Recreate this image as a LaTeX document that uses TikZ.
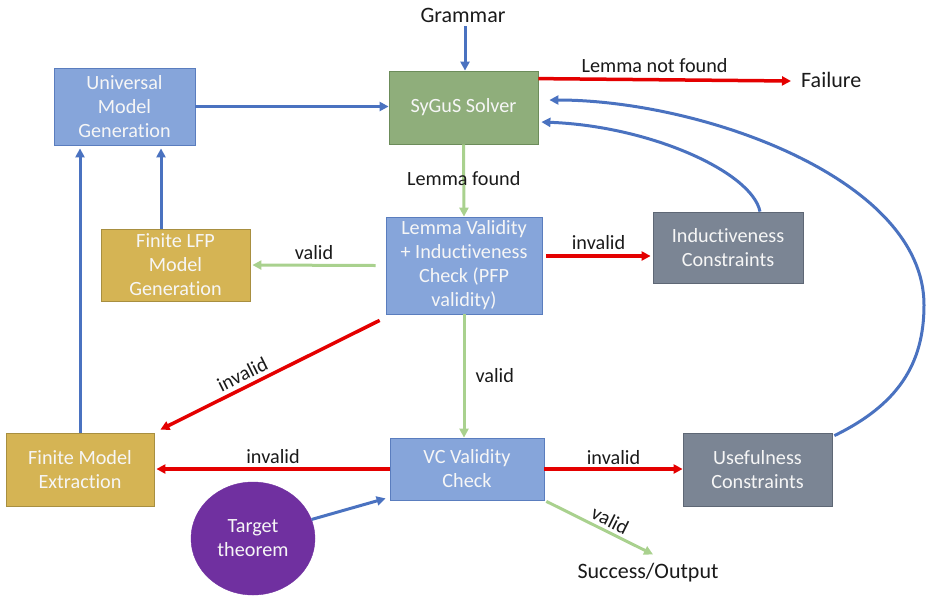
\documentclass[tikz,border=0pt]{standalone}
\usepackage{fontspec}
\setmainfont{Carlito}[Ligatures=NoCommon]
\usetikzlibrary{arrows.meta,shapes.geometric,calc}
\definecolor{bluefill}{HTML}{86A5DA}
\definecolor{blueline}{HTML}{5A7DBE}
\definecolor{greenfill}{HTML}{8FAE7B}
\definecolor{greenline}{HTML}{6C8C5A}
\definecolor{goldfill}{HTML}{D5B454}
\definecolor{goldline}{HTML}{A88F40}
\definecolor{grayfill}{HTML}{7B8594}
\definecolor{grayline}{HTML}{5E6775}
\definecolor{purplefill}{HTML}{7030A0}
\definecolor{arrblue}{HTML}{4A72C0}
\definecolor{arrred}{HTML}{E40000}
\definecolor{arrgreen}{HTML}{A9D18E}
\definecolor{boxtext}{HTML}{F6F6F6}
\definecolor{labeltext}{HTML}{1A1A1A}
\tikzset{
  box/.style={draw, line width=0.8pt, rectangle, align=center, inner sep=0pt,
    text=boxtext, font=\fontsize{20.2}{24}\selectfont},
  bluebox/.style={box, fill=bluefill, draw=blueline},
  greenbox/.style={box, fill=greenfill, draw=greenline},
  goldbox/.style={box, fill=goldfill, draw=goldline},
  graybox/.style={box, fill=grayfill, draw=grayline},
  outer/.style={text=labeltext, font=\fontsize{22}{26}\selectfont, inner sep=0pt},
  lbl/.style={text=labeltext, font=\fontsize{20.2}{24}\selectfont, inner sep=2pt},
  tip/.style={-{Triangle[length=9pt,width=9pt]}},
  bluearr/.style={tip, draw=arrblue, line width=3pt},
  redarr/.style={tip, draw=arrred, line width=3.5pt},
  greenarr/.style={tip, draw=arrgreen, line width=3pt},
}
\begin{document}
\begin{tikzpicture}[x=1pt,y=-1pt]
\useasboundingbox (0,0) rectangle (926,598);

% nodes
\node[bluebox, minimum width=141pt, minimum height=77pt] (universal) at (124.5,106.5) {Universal\\Model\\Generation};
\node[goldbox, minimum width=149pt, minimum height=72pt] (lfp) at (175.5,265) {Finite LFP\\Model\\Generation};
\node[greenbox, minimum width=149pt, minimum height=73pt] (sygus) at (463.5,107.5) {SyGuS Solver};
\node[bluebox, minimum width=156pt, minimum height=97pt] (lemma) at (464,265.5) {Lemma Validity\\+ Inductiveness\\Check (PFP\\validity)};
\node[graybox, minimum width=150pt, minimum height=71pt] (induct) at (728,247.5) {Inductiveness\\Constraints};
\node[goldbox, minimum width=148pt, minimum height=73pt] (fme) at (80,469.5) {Finite Model\\Extraction};
\node[bluebox, minimum width=154pt, minimum height=62pt] (vc) at (467,469) {VC Validity\\Check};
\node[graybox, minimum width=149pt, minimum height=73pt] (useful) at (757.5,469.5) {Usefulness\\Constraints};
\node[ellipse, fill=purplefill, draw=purplefill, minimum width=124pt, minimum height=113pt, inner sep=0pt,
  align=center, text=boxtext, font=\fontsize{20.2}{24}\selectfont] (target) at (253,538.5) {Target\\theorem};

\node[outer] (grammar) at (463,15) {Grammar};
\node[outer, anchor=west] (failure) at (801,80) {Failure};
\node[outer] (success) at (648,573) {Success/Output};

% connectors
\draw[bluearr] (grammar.south) ++(2pt,-4pt) coordinate (gs) -- (gs |- sygus.north);
\draw[redarr] ([yshift=-8pt]sygus.north east) -- ([xshift=-10pt,yshift=-1pt]failure.west)
  node[lbl, pos=0.46, above=3pt] {Lemma not found};
\draw[bluearr] (universal.east) -- (universal.east -| sygus.west);
\draw[greenarr] (sygus.south) -- (lemma.north) node[lbl, pos=0.47, inner sep=1pt] {Lemma found};
\draw[greenarr] ([xshift=-10pt]lemma.west) -- ([xshift=2pt]lfp.east)
  node[lbl, midway, above=2pt] {valid};
\draw[redarr] ([xshift=4pt,yshift=9.5pt]lemma.east) -- ([xshift=-2pt,yshift=-8.5pt]induct.west)
  node[lbl, midway, above=3pt] {invalid};
\draw[bluearr] ([xshift=32pt]induct.north) .. controls (752,172) and (650,126) .. ([shift={(3pt,-14.5pt)}]sygus.east);
\draw[bluearr] ([shift={(2pt,-3pt)}]useful.north east) .. controls (897,405) and (924,365) .. (924,305)
  .. controls (924,178) and (700,100) .. ([shift={(11pt,7.5pt)}]sygus.east);
\draw[redarr] ([shift={(-6pt,-6pt)}]lemma.south west) -- ([shift={(6pt,3pt)}]fme.north east)
  node[lbl, pos=0.6, sloped, above=2pt] {invalid};
\draw[greenarr] (lemma.south) -- (lemma.south |- vc.north)
  node[lbl, pos=0.5, right=8pt] {valid};
\draw[redarr] (vc.west) -- ([xshift=2pt]vc.west -| fme.east)
  node[lbl, midway, above=2pt] {invalid};
\draw[redarr] (vc.east) -- (vc.east -| useful.west)
  node[lbl, midway, above=1pt] {invalid};
\draw[greenarr] ([shift={(2pt,-1pt)}]vc.south east) -- ([shift={(5pt,9pt)}]success.north)
  node[lbl, pos=0.55, sloped, above=1pt] {valid};
\draw[bluearr] (target.18) -- ([shift={(-4pt,2pt)}]vc.south west);
\draw[bluearr] ([xshift=-14.5pt]lfp.north) -- ([xshift=-14.5pt,yshift=-3pt]lfp.north |- universal.south);
\draw[bluearr] (fme.north) -- ([yshift=-3pt]fme.north |- universal.south);
\end{tikzpicture}
\end{document}
